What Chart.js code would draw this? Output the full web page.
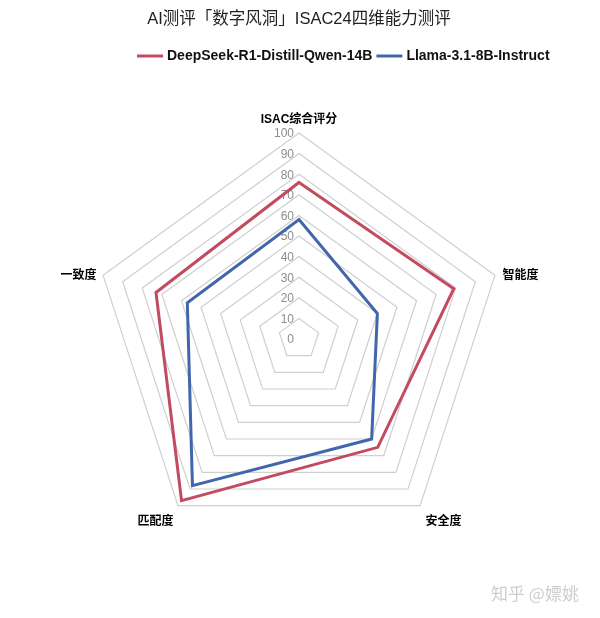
<!DOCTYPE html>
<html>
<head>
<meta charset="utf-8">
<script src="https://cdn.jsdelivr.net/npm/chart.js@4.4.1/dist/chart.umd.min.js"></script>
<style>
  html, body { margin: 0; padding: 0; background: #fff; }
  #wrap { position: relative; width: 600px; height: 618px; }
  #watermark {
    position: absolute; left: 491px; top: 580px;
    font: 17px 'Noto Sans CJK SC', sans-serif; color: #cdcdcd;
  }
</style>
</head>
<body>
<div id="wrap">
  <canvas id="radarChart" width="600" height="618"></canvas>
  <div id="watermark">知乎 @嫖姚</div>
</div>
<script>
// DATA
const axisLabels = ['ISAC综合评分', '智能度', '安全度', '匹配度', '一致度'];
const seriesNames = ['DeepSeek-R1-Distill-Qwen-14B', 'Llama-3.1-8B-Instruct'];
const deepseekScores = [76, 79, 65, 97, 73];
const llamaScores = [58, 40, 60, 88, 57];
const tickValues = [0, 10, 20, 30, 40, 50, 60, 70, 80, 90, 100];

const FONT = "'Liberation Sans', 'Noto Sans CJK SC', sans-serif";

/* tick numbers sit just left of the top axis, under the lines */
const tickLabelPlugin = {
  id: 'tickLabels',
  beforeDatasetsDraw(chart) {
    const scale = chart.scales.r;
    const ctx = chart.ctx;
    ctx.save();
    ctx.font = '12px ' + FONT;
    ctx.fillStyle = '#8c8c8c';
    ctx.textAlign = 'right';
    ctx.textBaseline = 'middle';
    tickValues.forEach((v) => {
      const pos = scale.getPointPositionForValue(0, v);
      ctx.fillText(String(v), pos.x - 5, pos.y + 1);
    });
    ctx.restore();
  }
};

/* axis names: placed like excel does (side ones centred on the corner) */
const axisNamePlugin = {
  id: 'axisNames',
  afterDatasetsDraw(chart) {
    const scale = chart.scales.r;
    const ctx = chart.ctx;
    const cx = scale.xCenter;
    const cy = scale.yCenter;
    ctx.save();
    ctx.font = 'bold 12px ' + FONT;
    ctx.fillStyle = '#000';
    ctx.textBaseline = 'middle';
    chart.data.labels.forEach((name, i) => {
      const pos = scale.getPointPosition(i, scale.drawingArea + 6);
      let dx = 0, dy;
      if (pos.x < cx - 1) { ctx.textAlign = 'right'; dx = -1; }
      else if (pos.x > cx + 1) { ctx.textAlign = 'left'; dx = 2; }
      else ctx.textAlign = 'center';
      if (pos.y < cy - scale.drawingArea * 0.5) dy = -7;   // top
      else if (pos.y < cy) dy = 2;                          // sides
      else dy = 11;                                         // bottom
      ctx.fillText(name, pos.x + dx, pos.y + dy);
    });
    ctx.restore();
  }
};

/* legend line + bold name, a bit right of centre like the original */
const legendPlugin = {
  id: 'topLegend',
  afterDraw(chart) {
    const ctx = chart.ctx;
    let x = 137;
    const y = 56;
    ctx.save();
    ctx.font = 'bold 14px ' + FONT;
    ctx.textBaseline = 'middle';
    chart.data.datasets.forEach((ds) => {
      ctx.strokeStyle = ds.borderColor;
      ctx.lineWidth = 3;
      ctx.beginPath();
      ctx.moveTo(x, y);
      ctx.lineTo(x + 26, y);
      ctx.stroke();
      x += 30;
      ctx.fillStyle = '#111';
      ctx.fillText(ds.label, x, y);
      x += ctx.measureText(ds.label).width + 4;
    });
    ctx.restore();
  }
};

const config = {
  type: 'radar',
  data: {
    labels: axisLabels,
    datasets: [
      {
        label: seriesNames[0],
        data: deepseekScores,
        borderColor: '#c24b5f',
        backgroundColor: 'rgba(0,0,0,0)',
      },
      {
        label: seriesNames[1],
        data: llamaScores,
        borderColor: '#4166ab',
        backgroundColor: 'rgba(0,0,0,0)',
      }
    ]
  },
  options: {
    responsive: false,
    animation: false,
    // square plot area 412x412 -> radius 206, centre (299, 339)
    layout: {
      padding: { left: 93, right: 95, bottom: 73 }
    },
    elements: {
      line: {
        fill: false,
        borderWidth: 3,
        borderJoinStyle: 'miter',
        tension: 0,
      },
      point: { radius: 0, hoverRadius: 0 }
    },
    scales: {
      r: {
        min: 0,
        max: 100,
        ticks: { stepSize: 10, display: false },
        grid: { color: '#cfcfcf', lineWidth: 1.2 },
        angleLines: { display: false },
        pointLabels: { display: false }
      }
    },
    plugins: {
      legend: { display: false },
      tooltip: { enabled: false },
      title: {
        display: true,
        text: 'AI测评「数字风洞」ISAC24四维能力测评',
        color: '#222',
        font: { family: FONT, size: 16.5, weight: 'normal' },
        padding: { top: 10, bottom: 103.2 }
      }
    }
  },
  plugins: [tickLabelPlugin, axisNamePlugin, legendPlugin]
};

const radarChart = new Chart(document.getElementById('radarChart'), config);
</script>
</body>
</html>
